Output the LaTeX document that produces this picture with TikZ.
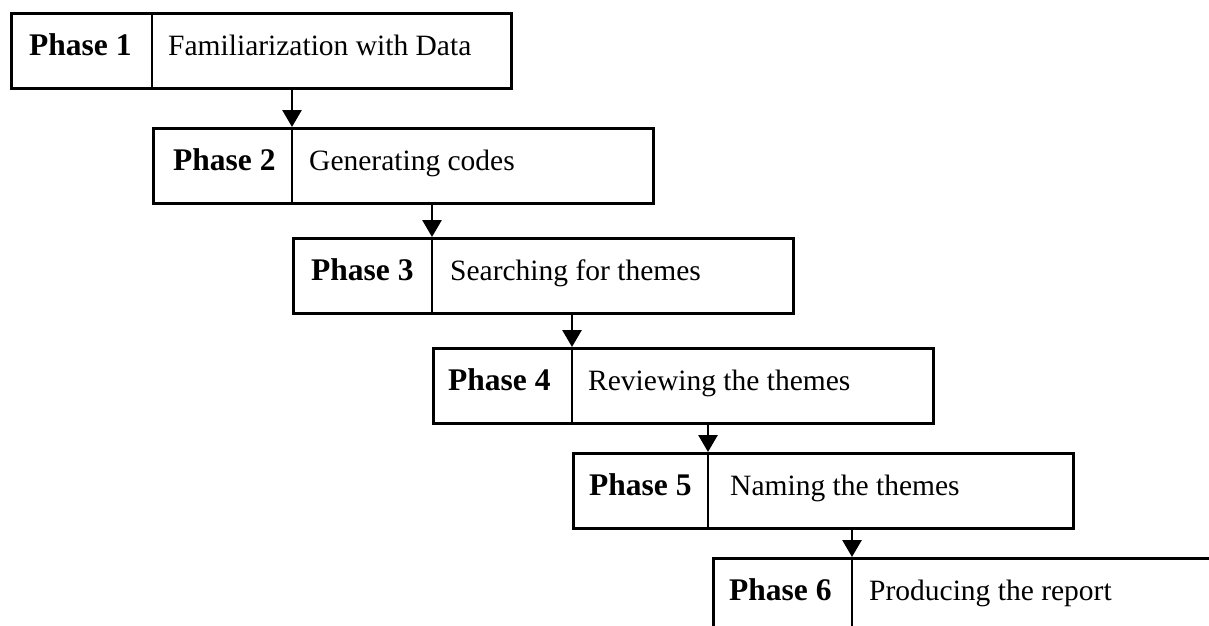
\documentclass[tikz,border=0pt]{standalone}
\usepackage{fontspec}
\setmainfont{Liberation Serif}
\usetikzlibrary{arrows.meta}
\begin{document}
\begin{tikzpicture}[x=1pt,y=-1pt,
  phasebox/.style={draw, line width=2.8pt, minimum width=500pt, minimum height=75pt, inner sep=0pt, anchor=north west},
  phaselabel/.style={anchor=base west, inner sep=0pt, font=\bfseries\fontsize{31.5}{31}\selectfont},
  desclabel/.style={anchor=base west, inner sep=0pt, font=\fontsize{29.5}{31}\selectfont},
  divline/.style={line width=2.8pt},
  flow/.style={line width=2.8pt, -{Triangle[width=19pt,length=17pt]}}]
\useasboundingbox (0,0) rectangle (1209,625);
\clip (0,0) rectangle (1209,625);
% boxes
\node[phasebox] (b1) at (10,12) {};
\node[phasebox] (b2) at (152,127) {};
\node[phasebox] (b3) at (292,237) {};
\node[phasebox] (b4) at (432,347) {};
\node[phasebox] (b5) at (572,452) {};
\node[phasebox] (b6) at (712,557) {};
% divider tops
\coordinate (d1) at (152,12);
\coordinate (d2) at (292,127);
\coordinate (d3) at (432,237);
\coordinate (d4) at (572,347);
\coordinate (d5) at (708,452);
\coordinate (d6) at (852,557);
% dividers
\draw[divline] (d1) -- (d1 |- b1.south);
\draw[divline] (d2) -- (d2 |- b2.south);
\draw[divline] (d3) -- (d3 |- b3.south);
\draw[divline] (d4) -- (d4 |- b4.south);
\draw[divline] (d5) -- (d5 |- b5.south);
\draw[divline] (d6) -- (d6 |- b6.south);
% arrows
\draw[flow] (d2 |- b1.south) -- (d2);
\draw[flow] (d3 |- b2.south) -- (d3);
\draw[flow] (d4 |- b3.south) -- (d4);
\draw[flow] (d5 |- b4.south) -- (d5);
\draw[flow] (d6 |- b5.south) -- (d6);
% labels
\node[phaselabel] (p1) at (29,55) {Phase 1};
\node[desclabel] (t1) at (168,55) {Familiarization with Data};
\node[phaselabel] (p2) at (173,170) {Phase 2};
\node[desclabel] (t2) at (309,170) {Generating codes};
\node[phaselabel] (p3) at (311,280) {Phase 3};
\node[desclabel] (t3) at (450,280) {Searching for themes};
\node[phaselabel] (p4) at (448,390) {Phase 4};
\node[desclabel] (t4) at (588,390) {Reviewing the themes};
\node[phaselabel] (p5) at (589,495) {Phase 5};
\node[desclabel] (t5) at (730,495) {Naming the themes};
\node[phaselabel] (p6) at (729,600) {Phase 6};
\node[desclabel] (t6) at (869,600) {Producing the report};
\end{tikzpicture}
\end{document}
